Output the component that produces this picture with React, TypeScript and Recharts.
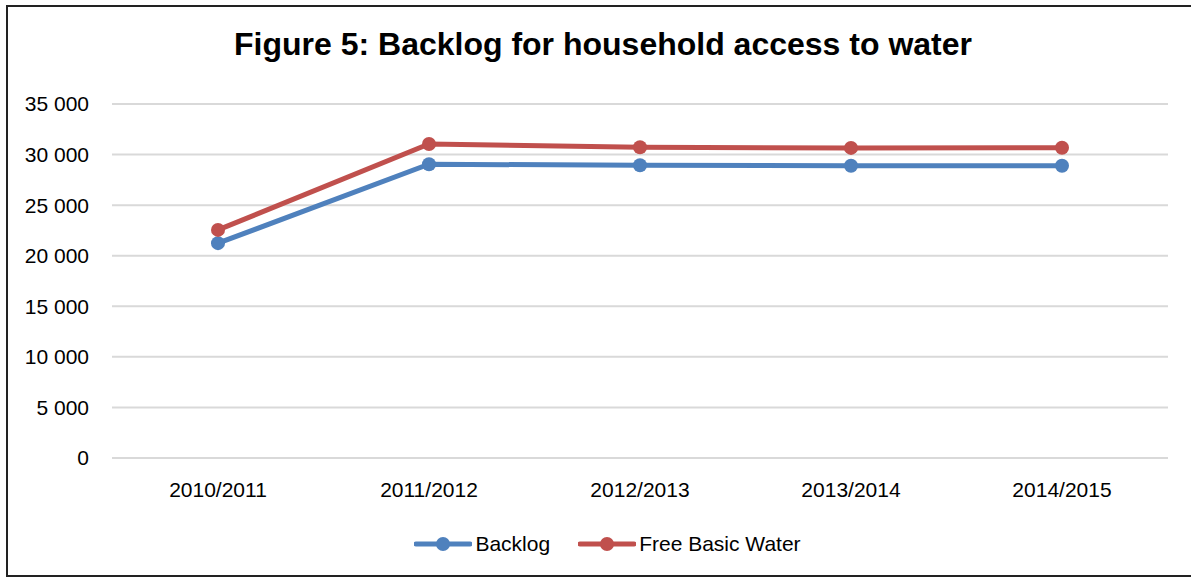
import React from 'react';
import { LineChart, Line, XAxis, YAxis, CartesianGrid, Legend } from 'recharts';

const years = ['2010/2011', '2011/2012', '2012/2013', '2013/2014', '2014/2015'];
const backlog = [21240, 29040, 28950, 28900, 28900];
const freeBasicWater = [22550, 31050, 30720, 30660, 30670];
const yTicks = [0, 5000, 10000, 15000, 20000, 25000, 30000, 35000];

const BLUE = '#4F81BD';
const RED = '#C0504D';
const FONT = '"Liberation Sans", Arial, sans-serif';

const data = years.map((year, i) => ({
  year,
  backlog: backlog[i],
  fbw: freeBasicWater[i],
}));

const fmt = (v: number) => (v >= 1000 ? `${Math.floor(v / 1000)} ${String(v % 1000).padStart(3, '0')}` : String(v));

function LegendContent() {
  const items = [
    { name: 'Backlog', color: BLUE },
    { name: 'Free Basic Water', color: RED },
  ];
  return (
    <div style={{ display: 'flex', justifyContent: 'center', gap: 28, fontFamily: FONT, fontSize: 21, color: '#000' }}>
      {items.map((it) => (
        <div key={it.name} style={{ display: 'flex', alignItems: 'center' }}>
          <svg width={58} height={20} style={{ marginRight: 3 }}>
            <line x1={2} y1={10} x2={56} y2={10} stroke={it.color} strokeWidth={5} strokeLinecap="round" />
            <circle cx={29} cy={10} r={7} fill={it.color} />
          </svg>
          <span>{it.name}</span>
        </div>
      ))}
    </div>
  );
}

export default function App() {
  return (
    <div style={{ position: 'absolute', left: 0, top: 0, width: 1191, height: 581, background: '#fff', overflow: 'hidden' }}>
      <div
        style={{
          position: 'absolute',
          left: 6,
          top: 5,
          width: 1200,
          height: 572,
          border: '2px solid #222',
          boxSizing: 'border-box',
        }}
      />
      <div
        style={{
          position: 'absolute',
          left: 0,
          top: 26,
          width: 1206,
          textAlign: 'center',
          fontFamily: FONT,
          fontWeight: 'bold',
          fontSize: 32,
          color: '#000',
        }}
      >
        Figure 5: Backlog for household access to water
      </div>
      <div style={{ position: 'absolute', left: 0, top: 0 }}>
        <LineChart width={1191} height={581} data={data} margin={{ top: 104, right: 23, left: 0, bottom: 93 }}>
          <CartesianGrid vertical={false} stroke="#D9D9D9" strokeWidth={2} />
          <XAxis
            dataKey="year"
            axisLine={false}
            tickLine={false}
            height={30}
            tickSize={6}
            tickMargin={18}
            padding={{ left: 106, right: 106 }}
            tick={{ fill: '#000', fontSize: 21, fontFamily: FONT }}
          />
          <YAxis
            domain={[0, 35000]}
            ticks={yTicks}
            width={112}
            axisLine={false}
            tickLine={false}
            tickSize={6}
            tickMargin={17}
            tickFormatter={fmt}
            tick={{ fill: '#000', fontSize: 21, fontFamily: FONT }}
          />
          <Legend
            verticalAlign="middle"
            content={<LegendContent />}
            wrapperStyle={{ position: 'absolute', top: 532, left: 12, width: 1191 }}
          />
          <Line
            dataKey="backlog"
            name="Backlog"
            stroke={BLUE}
            strokeWidth={5}
            dot={{ r: 7, fill: BLUE, stroke: BLUE, strokeWidth: 0 }}
            isAnimationActive={false}
          />
          <Line
            dataKey="fbw"
            name="Free Basic Water"
            stroke={RED}
            strokeWidth={5}
            dot={{ r: 7, fill: RED, stroke: RED, strokeWidth: 0 }}
            isAnimationActive={false}
          />
        </LineChart>
      </div>
    </div>
  );
}
